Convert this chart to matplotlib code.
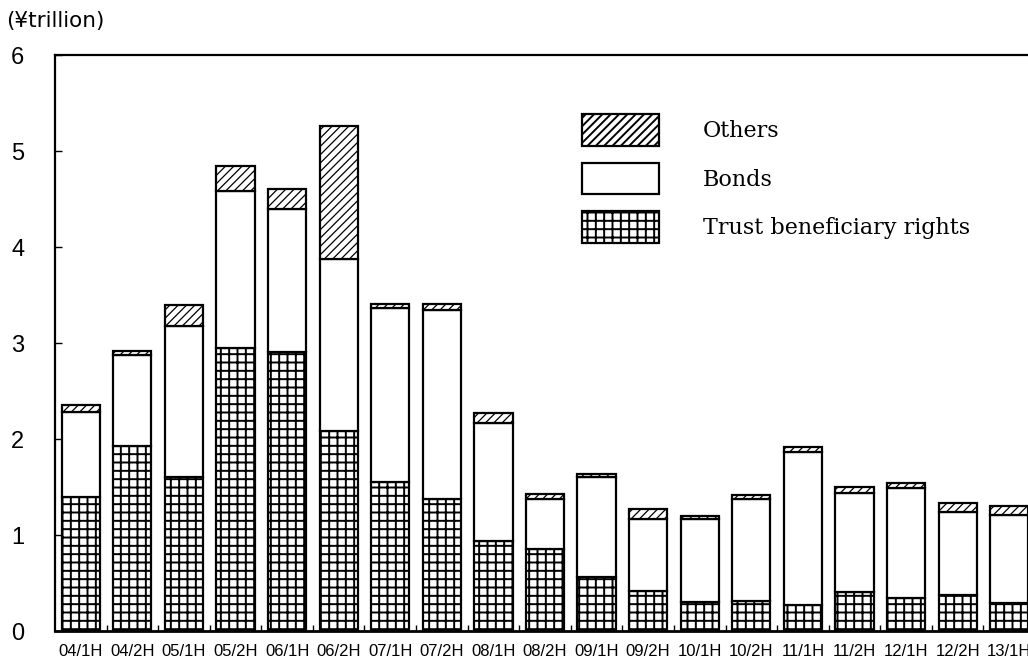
import matplotlib
matplotlib.use("Agg")
import matplotlib.pyplot as plt
import numpy as np

periods = ["04/1H", "04/2H", "05/1H", "05/2H", "06/1H", "06/2H", "07/1H",
           "07/2H", "08/1H", "08/2H", "09/1H", "09/2H", "10/1H", "10/2H",
           "11/1H", "11/2H", "12/1H", "12/2H", "13/1H"]
trust = [1.40, 1.93, 1.60, 2.95, 2.91, 2.08, 1.55, 1.38, 0.94, 0.85,
         0.56, 0.42, 0.30, 0.31, 0.27, 0.41, 0.34, 0.37, 0.29]
bonds = [0.88, 0.94, 1.58, 1.63, 1.49, 1.79, 1.81, 1.96, 1.23, 0.53,
         1.04, 0.75, 0.87, 1.07, 1.59, 1.03, 1.15, 0.87, 0.92]
others = [0.07, 0.05, 0.22, 0.26, 0.20, 1.39, 0.05, 0.07, 0.10, 0.05,
          0.04, 0.10, 0.03, 0.04, 0.06, 0.06, 0.05, 0.09, 0.09]
yticks = [0, 1, 2, 3, 4, 5, 6]

plt.rcParams['hatch.linewidth'] = 1.4
plt.rcParams['hatch.color'] = 'black'

fig = plt.figure(figsize=(10.28, 6.62), dpi=100)
ax = fig.add_axes([55 / 1028, 31 / 662, 980 / 1028, 576 / 662])

x = np.arange(len(periods))
w = 0.74
trust = np.array(trust)
bonds = np.array(bonds)
others = np.array(others)

b_trust = ax.bar(x, trust, w, color='white', edgecolor='black', linewidth=1.6,
                 hatch='++', label='Trust beneficiary rights')
b_bonds = ax.bar(x, bonds, w, bottom=trust, color='white', edgecolor='black',
                 linewidth=1.6, label='Bonds')
with plt.rc_context({'hatch.linewidth': 0.9}):
    b_oth = ax.bar(x, others, w, bottom=trust + bonds, color='white',
                   edgecolor='black', linewidth=1.6, hatch='////', label='Others')

ax.set_xlim(-0.5, len(periods) - 0.5)
ax.set_ylim(0, 6)
ax.set_yticks(yticks)
ax.set_yticklabels([str(t) for t in yticks], family='Liberation Sans', fontsize=17)
ax.tick_params(axis='y', direction='in', length=5, width=1, pad=22)
ax.set_xticks(x)
ax.set_xticklabels(periods, family='Liberation Sans', fontsize=12)
ax.tick_params(axis='x', which='major', length=0, pad=9)
ax.set_xticks(x[:-1] + 0.5, minor=True)
ax.tick_params(axis='x', which='minor', direction='in', length=4, width=1)

for s in ['left', 'top', 'bottom']:
    ax.spines[s].set_linewidth(1.6)
ax.spines['bottom'].set_linewidth(2.0)
ax.spines['right'].set_visible(False)

fig.text(6 / 1028, 641 / 662, '(¥trillion)', family='DejaVu Sans',
         fontsize=15.5, ha='left', va='center')

leg = ax.legend(handles=[b_oth, b_bonds, b_trust],
                labels=['Others', 'Bonds', 'Trust beneficiary rights'],
                loc='upper left', bbox_to_anchor=(582 / 1028, 1 - 114 / 662),
                bbox_transform=fig.transFigure, frameon=False,
                prop={'family': 'DejaVu Serif', 'size': 16},
                handlelength=3.47, handleheight=1.83, labelspacing=0.75,
                handletextpad=1.97, borderpad=0, borderaxespad=0)

fig.savefig('out.png', dpi=100)
